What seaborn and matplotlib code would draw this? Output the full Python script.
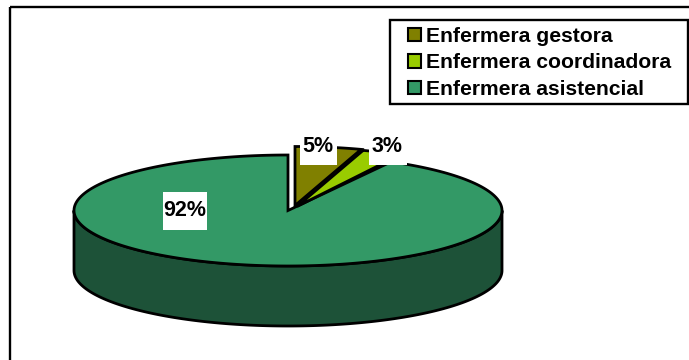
import numpy as np
import matplotlib
matplotlib.use("Agg")
import matplotlib.pyplot as plt
from matplotlib.patches import Patch, Rectangle
import seaborn as sns

# Shares of nursing roles
categories = ["Enfermera gestora", "Enfermera coordinadora", "Enfermera asistencial"]
shares = [5, 3, 92]
palette = sns.color_palette(["#808000", "#99CC00", "#339966"])
wall_colour = "#1D5238"

sns.set_style("white")
plt.rcParams["font.family"] = ["Liberation Sans", "DejaVu Sans"]
plt.rcParams["text.color"] = "black"

fig, ax = plt.subplots(figsize=(6.89, 3.6), dpi=100)
ax.set_position([0, 0, 1, 1])
ax.set_xlim(0, 689)
ax.set_ylim(360, 0)
ax.axis("off")

# Pie geometry in canvas units
cx, cy = 288, 210.5
rx = 214
slice_ry = [59, 59, 55.5]
depth = 60
offsets = [(7, -5), (9, -4), (0, 0)]
label_pos = [(318, 146), (387, 146), (185, 210)]
label_box = [(300, 130, 37, 35), (369, 130, 38, 35), (163, 192, 44, 38)]
lw = 2.0
frame_lw = 1.7


def rim(t, ry, dx=0, dy=0, drop=0):
    return cx + dx + rx * np.sin(t), cy + dy + drop - ry * np.cos(t)


# Chart frame
ax.add_patch(Rectangle((10, 7), 800, 500, fill=False, ec="black", lw=frame_lw, zorder=1))

edges = np.cumsum([0] + shares) / sum(shares) * 2 * np.pi

# Side wall of the large slice, front half only
front = np.linspace(np.pi / 2, 3 * np.pi / 2, 200)
xt, yt = rim(front, slice_ry[2])
xb, yb = rim(front, slice_ry[2], drop=depth)
ax.fill(np.r_[xt, xb[::-1]], np.r_[yt, yb[::-1]], fc=wall_colour, ec="black", lw=lw, zorder=2)

# Top faces; the two small slices sit pulled out from the centre
for i in [2, 0, 1]:
    t = np.linspace(edges[i], edges[i + 1], 300)
    dx, dy = offsets[i]
    x, y = rim(t, slice_ry[i], dx, dy)
    ax.fill(np.r_[cx + dx, x], np.r_[cy + dy, y], fc=palette[i], ec="black", lw=lw,
            joinstyle="miter", zorder=3)

# Percentage labels on white plates
for value, (lx, ly), (bx, by, bw, bh) in zip(shares, label_pos, label_box):
    ax.add_patch(Rectangle((bx, by), bw, bh, fc="white", ec="none", zorder=4))
    ax.text(lx, ly, f"{value}%", ha="center", va="center", fontsize=15.5,
            fontweight="bold", color="black", zorder=5)

# Legend box
ax.add_patch(Rectangle((390, 20), 298, 84, fc="white", ec="black", lw=frame_lw, zorder=6))
handles = [Patch(fc=c, ec="black", lw=1.5) for c in palette]
leg = ax.legend(handles, categories, loc="upper left",
                bbox_to_anchor=(407.5, 27), bbox_transform=ax.transData,
                borderaxespad=0, borderpad=0, frameon=False,
                handlelength=0.62, handleheight=0.62,
                handletextpad=0.28, labelspacing=0.35,
                prop={"weight": "bold", "size": 15.2})
leg.set_zorder(7)

fig.savefig("out.png", dpi=100)
